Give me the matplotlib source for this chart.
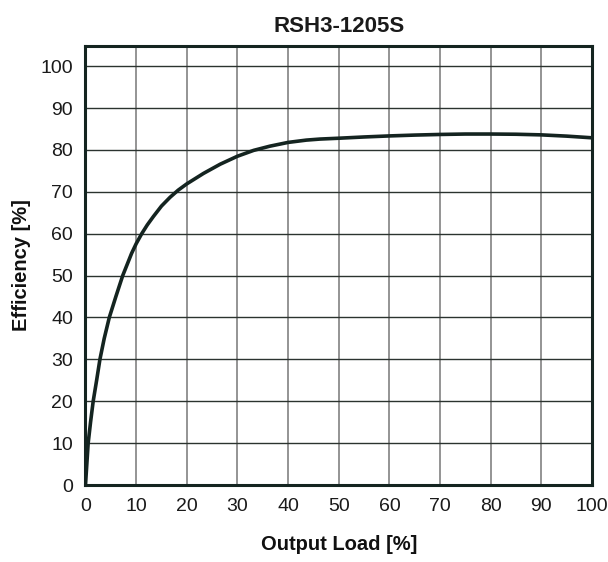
import matplotlib.pyplot as plt

# efficiency curve
load_pct = [0, 0.53, 1.0, 1.52, 2.2, 2.85, 3.7, 4.7, 6.0, 7.35, 9.1, 10,
            11.1, 12.2, 13.4, 15.0, 16.7, 18.3, 20, 23.3, 26.6, 30, 33.2, 36.4,
            40, 43.6, 46.3, 50, 55, 60, 65, 70, 75, 80, 85, 90, 95, 100]
efficiency = [0, 10, 15, 20, 25, 30, 35, 40, 45, 50, 55.3, 57.6,
              60, 62.1, 64.1, 66.6, 68.7, 70.4, 71.9, 74.4, 76.6, 78.5, 79.9, 80.9,
              81.8, 82.35, 82.6, 82.8, 83.1, 83.35, 83.55, 83.7, 83.8, 83.8,
              83.75, 83.6, 83.3, 82.9]
x_ticks = list(range(0, 101, 10))
y_ticks = list(range(0, 101, 10))
title = "RSH3-1205S"

plt.rcParams['font.family'] = ['Liberation Sans', 'DejaVu Sans']

fig = plt.figure(figsize=(6.08, 5.62), dpi=100)
ax = fig.add_axes([0.1406, 0.137, 0.8331, 0.781])

ax.plot(load_pct, efficiency, color="#142420", linewidth=2.6,
        solid_capstyle='butt', solid_joinstyle='round', zorder=3)

ax.set_xlim(0, 100)
ax.set_ylim(0, 104.8)
ax.set_xticks(x_ticks)
ax.set_yticks(y_ticks)
ax.tick_params(length=0, labelsize=14, colors="#1a1a1a")
ax.tick_params(axis='x', pad=9)
ax.tick_params(axis='y', pad=9)

ax.grid(axis='x', color="#777777", linewidth=1.1)
ax.grid(axis='y', color="#2b332f", linewidth=1.0)
for s in ax.spines.values():
    s.set_linewidth(2.2)
    s.set_color("#142420")
    s.set_zorder(4)

ax.set_title(title, fontsize=16, fontweight='bold', pad=10, color="#1a1a1a")
ax.set_xlabel("Output Load [%]", fontsize=14.5, fontweight='bold', labelpad=15,
              color="#111111")
ax.set_ylabel("Efficiency [%]", fontsize=14.5, fontweight='bold', labelpad=7,
              color="#111111")

fig.savefig("out.png", dpi=100)
